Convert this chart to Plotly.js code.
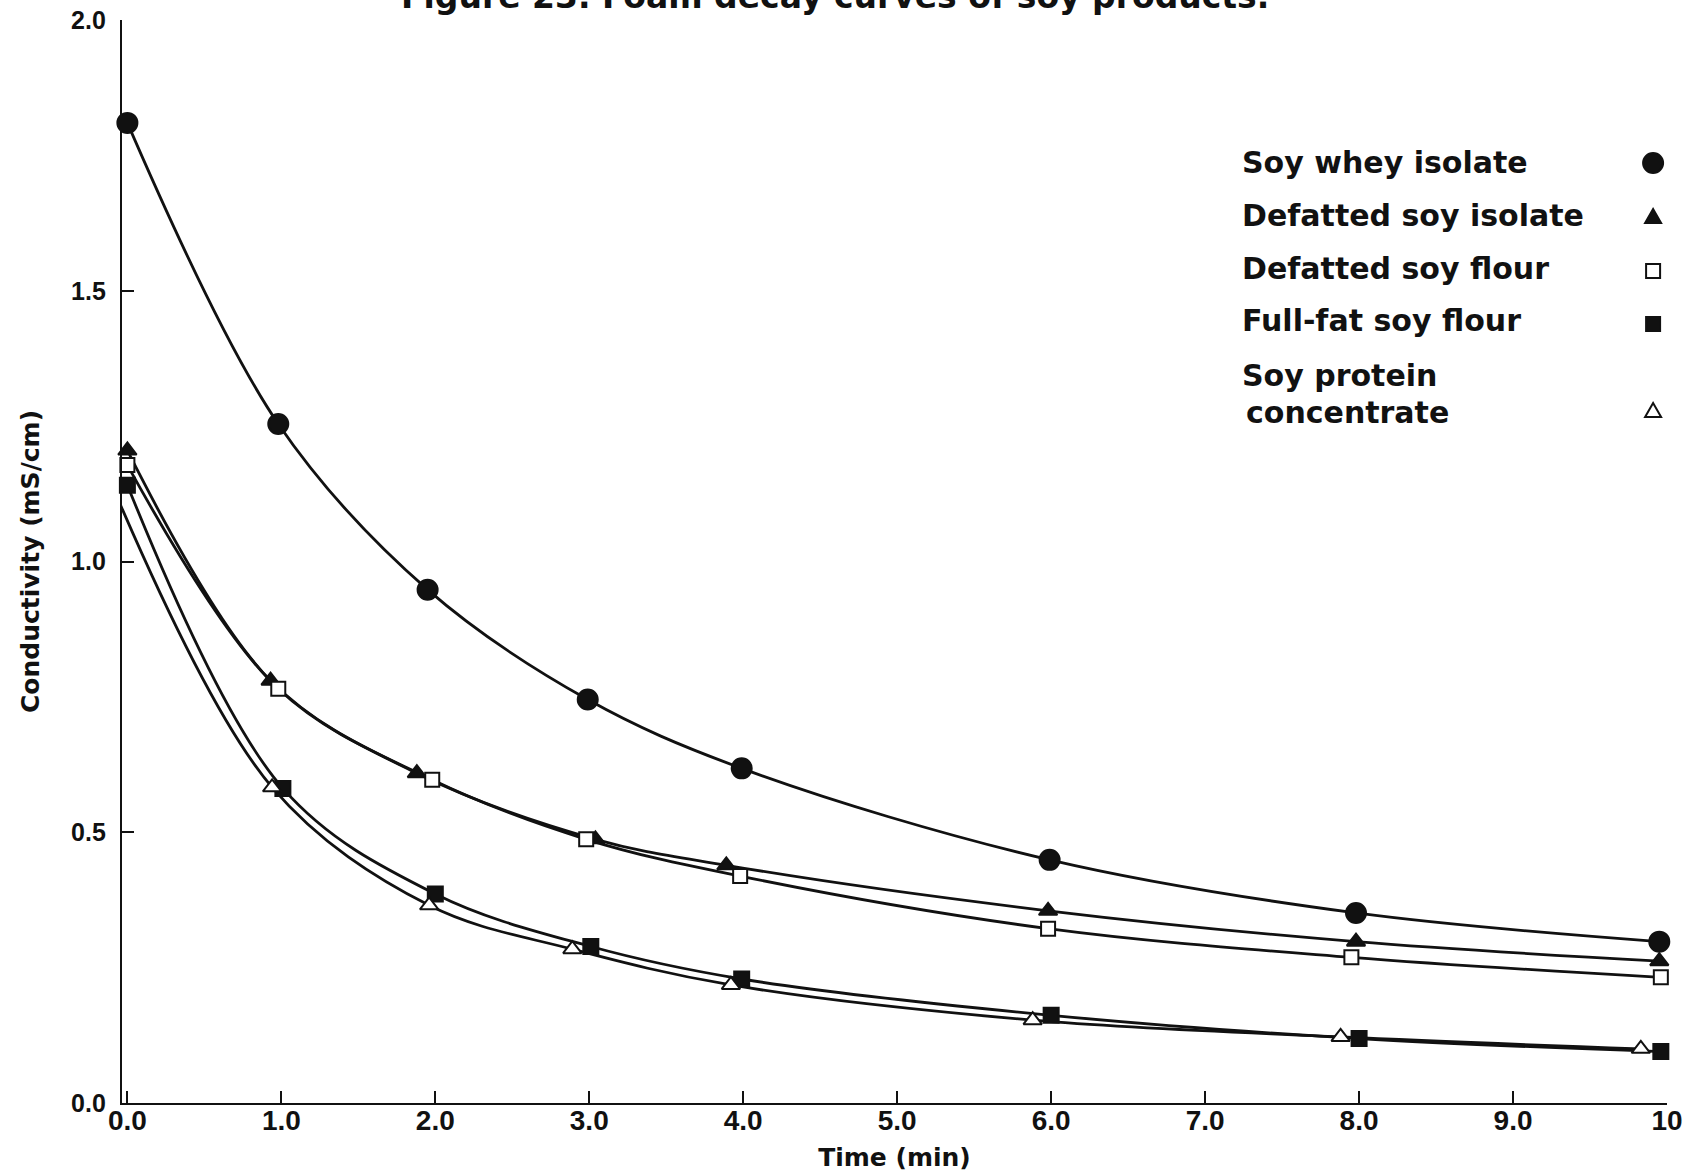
<!DOCTYPE html>
<html>
<head>
<meta charset="utf-8">
<script src="https://cdn.plot.ly/plotly-3.0.1.min.js"></script>
<style>
  html, body { margin: 0; padding: 0; background: #fff; }
  #chart { width: 1695px; height: 1172px; }
</style>
</head>
<body>
<div id="chart"></div>
<script>
// Foam decay: conductivity (mS/cm) against time (min) for five soy products
const seriesNames = [
  "Soy whey isolate",
  "Defatted soy isolate",
  "Defatted soy flour",
  "Full-fat soy flour",
  "Soy protein concentrate"
];

const wheyIsolateTime = [0, 0.98, 1.95, 2.99, 3.99, 5.99, 7.98, 9.95];
const wheyIsolateCond = [1.81, 1.254, 0.948, 0.745, 0.618, 0.449, 0.351, 0.298];

const defattedIsolateTime = [0, 0.93, 1.88, 3.04, 3.89, 5.98, 7.98, 9.95];
const defattedIsolateCond = [1.205, 0.780, 0.609, 0.487, 0.439, 0.355, 0.298, 0.262];

const defattedFlourTime = [0, 0.98, 1.98, 2.98, 3.98, 5.98, 7.95, 9.96];
const defattedFlourCond = [1.178, 0.765, 0.597, 0.487, 0.419, 0.322, 0.269, 0.232];

const fullFatFlourTime = [0, 1.01, 2.0, 3.01, 3.99, 6.0, 8.0, 9.96];
const fullFatFlourCond = [1.141, 0.581, 0.386, 0.289, 0.229, 0.162, 0.119, 0.095];

const concentrateTime = [-0.1, 0.94, 1.96, 2.89, 3.92, 5.88, 7.88, 9.83];
const concentrateCond = [1.141, 0.583, 0.365, 0.284, 0.218, 0.153, 0.122, 0.100];

const xTickVals = [0, 1, 2, 3, 4, 5, 6, 7, 8, 9, 10];
const xTickText = ["0.0", "1.0", "2.0", "3.0", "4.0", "5.0", "6.0", "7.0", "8.0", "9.0", "10"];
const yTickVals = [0, 0.5, 1.0, 1.5, 2.0];
const yTickText = ["0.0", "0.5", "1.0", "1.5", "2.0"];

const figureCaption = "Figure 23. Foam decay curves of soy products.";

const INK = "#111111";

const series = [
  { t: wheyIsolateTime,     c: wheyIsolateCond,     symbol: "circle",      size: 20, fill: INK },
  { t: defattedIsolateTime, c: defattedIsolateCond, symbol: "triangle-up", size: 16, fill: INK },
  { t: defattedFlourTime,   c: defattedFlourCond,   symbol: "square",      size: 14, fill: "#ffffff" },
  { t: fullFatFlourTime,    c: fullFatFlourCond,    symbol: "square",      size: 15, fill: INK },
  { t: concentrateTime,     c: concentrateCond,     symbol: "triangle-up", size: 16, fill: "#ffffff" }
];

// Curves first, then markers so every symbol sits on top of all lines
const lineTraces = series.map((s, i) => ({
  type: "scatter",
  mode: "lines",
  name: seriesNames[i],
  x: s.t,
  y: s.c,
  line: { color: INK, width: 2.8, shape: "spline", smoothing: 1 },
  cliponaxis: false,
  hoverinfo: "skip",
  showlegend: false
}));

const markerTraces = series.map((s, i) => ({
  type: "scatter",
  mode: "markers",
  name: seriesNames[i],
  x: s.t,
  y: s.c,
  marker: {
    symbol: s.symbol,
    size: s.size,
    color: s.fill,
    line: { color: INK, width: 2 }
  },
  cliponaxis: false,
  showlegend: false
}));

const textFont = { family: "DejaVu Sans, Verdana, sans-serif", size: 30, color: INK, weight: "bold" };

// Key: names on the left, symbols on the right
const legendX = 0.7238;
const keySymbolX = 0.991;
const annotations = [
  { text: "Soy whey isolate",     y: 0.8680, x: legendX },
  { text: "Defatted soy isolate", y: 0.8199, x: legendX },
  { text: "Defatted soy flour",   y: 0.7710, x: legendX },
  { text: "Full-fat soy flour",   y: 0.7221, x: legendX },
  { text: "Soy protein",          y: 0.6722, x: legendX },
  { text: "concentrate",          y: 0.6380, x: legendX + 0.0026 }
].map(a => ({
  text: a.text, x: a.x, y: a.y, xref: "paper", yref: "paper",
  xanchor: "left", yanchor: "middle", showarrow: false, font: textFont
}));

// Caption line running off the top edge of the page
annotations.push({
  text: figureCaption,
  x: 0.4613, y: 1, xref: "paper", yref: "paper",
  xanchor: "center", yanchor: "middle", yshift: 24,
  showarrow: false,
  font: { family: "DejaVu Sans, Verdana, sans-serif", size: 33, color: INK, weight: "bold" }
});

const keyLine = { color: INK, width: 2 };
const shapes = [
  { type: "circle", xref: "paper", yref: "paper", xsizemode: "pixel", ysizemode: "pixel",
    xanchor: keySymbolX, yanchor: 0.8680, x0: -10, x1: 10, y0: -10, y1: 10,
    fillcolor: INK, line: keyLine },
  { type: "path", xref: "paper", yref: "paper", xsizemode: "pixel", ysizemode: "pixel",
    xanchor: keySymbolX, yanchor: 0.8181, path: "M -8 -6 L 8 -6 L 0 8 Z",
    fillcolor: INK, line: keyLine },
  { type: "rect", xref: "paper", yref: "paper", xsizemode: "pixel", ysizemode: "pixel",
    xanchor: keySymbolX, yanchor: 0.7682, x0: -7, x1: 7, y0: -7, y1: 7,
    fillcolor: "#ffffff", line: keyLine },
  { type: "rect", xref: "paper", yref: "paper", xsizemode: "pixel", ysizemode: "pixel",
    xanchor: keySymbolX, yanchor: 0.7193, x0: -7, x1: 7, y0: -7, y1: 7,
    fillcolor: INK, line: keyLine },
  { type: "path", xref: "paper", yref: "paper", xsizemode: "pixel", ysizemode: "pixel",
    xanchor: keySymbolX, yanchor: 0.6390, path: "M -8 -6 L 8 -6 L 0 8 Z",
    fillcolor: "#ffffff", line: keyLine }
];

const layout = {
  width: 1695,
  height: 1172,
  paper_bgcolor: "#ffffff",
  plot_bgcolor: "#ffffff",
  margin: { l: 122, r: 27.5, t: 20, b: 69 },
  showlegend: false,
  xaxis: {
    range: [-0.035, 10],
    tickmode: "array",
    tickvals: xTickVals,
    ticktext: xTickText,
    ticks: "inside",
    ticklen: 12,
    tickwidth: 2,
    tickcolor: INK,
    ticklabelstandoff: -9,
    showline: true,
    linecolor: INK,
    linewidth: 2.2,
    showgrid: false,
    zeroline: false,
    automargin: false,
    tickfont: { family: "Liberation Sans Narrow, Arial Narrow, sans-serif", size: 28, color: INK, weight: "bold" },
    title: {
      text: "Time (min)",
      standoff: 16,
      font: { family: "DejaVu Sans, Verdana, sans-serif", size: 25, color: INK, weight: "bold" }
    }
  },
  yaxis: {
    range: [0, 2],
    tickmode: "array",
    tickvals: yTickVals,
    ticktext: yTickText,
    ticks: "inside",
    ticklen: 12,
    tickwidth: 2,
    tickcolor: INK,
    ticklabelstandoff: 9,
    showline: true,
    linecolor: INK,
    linewidth: 2.2,
    showgrid: false,
    zeroline: false,
    automargin: false,
    tickfont: { family: "Liberation Sans, Arial, sans-serif", size: 25, color: INK, weight: "bold" },
    title: {
      text: "Conductivity (mS/cm)",
      standoff: 24,
      font: { family: "DejaVu Sans, Verdana, sans-serif", size: 25, color: INK, weight: "bold" }
    }
  },
  annotations: annotations,
  shapes: shapes
};

Plotly.newPlot("chart", lineTraces.concat(markerTraces), layout, { displayModeBar: false, staticPlot: true });
</script>
</body>
</html>
